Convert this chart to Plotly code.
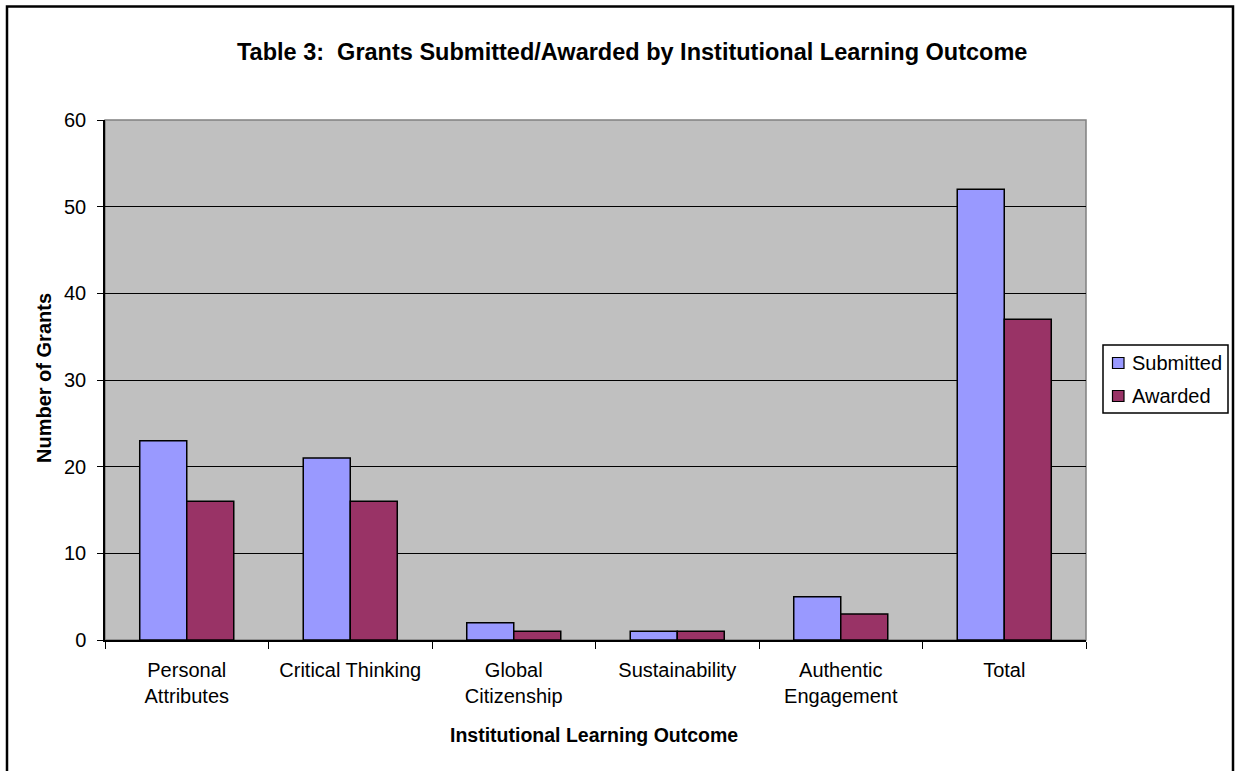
import plotly.graph_objects as go

outcomes = ["Personal<br>Attributes", "Critical Thinking", "Global<br>Citizenship",
            "Sustainability", "Authentic<br>Engagement", "Total"]
submitted = [23, 21, 2, 1, 5, 52]
awarded = [16, 16, 1, 1, 3, 37]

series = [("Submitted", submitted, "#9999FF"), ("Awarded", awarded, "#993366")]

W, H = 1235, 771
L, R, T, B = 105, 1086, 120, 640   # plot area in pixels
pw, ph = R - L, B - T

def px(x):
    return (x - L) / pw

def py(y):
    return (B - y) / ph

fig = go.Figure()
for name, vals, color in series:
    fig.add_trace(go.Bar(x=outcomes, y=vals, name=name, showlegend=False,
                         marker=dict(color=color, line=dict(color="black", width=1.5))))

fig.update_layout(
    width=W, height=H,
    paper_bgcolor="white",
    plot_bgcolor="#C0C0C0",
    font=dict(family="Arial, Liberation Sans, sans-serif", color="black", size=20),
    barmode="group",
    bargap=0.425,
    bargroupgap=0,
    margin=dict(l=L, r=W - R, t=T, b=H - B, autoexpand=False),
    xaxis=dict(
        showline=True, linecolor="black", linewidth=1.5,
        ticks="outside", tickson="boundaries", ticklen=7, tickcolor="black",
        tickfont=dict(size=20), ticklabelstandoff=11,
    ),
    yaxis=dict(
        range=[0, 60], dtick=10,
        showline=True, linecolor="black", linewidth=1.5,
        ticks="outside", ticklen=6, tickcolor="black",
        showgrid=True, gridcolor="black", gridwidth=1,
        zeroline=False,
        tickfont=dict(size=20), ticklabelstandoff=7,
    ),
)

fig.add_annotation(text="<b>Table 3:  Grants Submitted/Awarded by Institutional Learning Outcome</b>",
                   xref="paper", yref="paper", x=px(632), y=py(52),
                   xanchor="center", yanchor="middle", showarrow=False,
                   font=dict(size=23.5))
fig.add_annotation(text="<b>Institutional Learning Outcome</b>",
                   xref="paper", yref="paper", x=px(594), y=py(735),
                   xanchor="center", yanchor="middle", showarrow=False,
                   font=dict(size=19.5))
fig.add_annotation(text="<b>Number of Grants</b>", textangle=-90,
                   xref="paper", yref="paper", x=px(44), y=py(378),
                   xanchor="center", yanchor="middle", showarrow=False,
                   font=dict(size=20))

# legend box drawn by hand, Excel style
fig.add_shape(type="rect", xref="paper", yref="paper",
              x0=px(1103), x1=px(1228), y0=py(413), y1=py(345),
              line=dict(color="black", width=1.5), fillcolor="white")
for i, (name, vals, color) in enumerate(series):
    yc = 363 + 33 * i
    fig.add_shape(type="rect", xref="paper", yref="paper",
                  x0=px(1112.5), x1=px(1124), y0=py(yc + 5.5), y1=py(yc - 5.5),
                  line=dict(color="black", width=1.2), fillcolor=color)
    fig.add_annotation(text=name, xref="paper", yref="paper", x=px(1130), y=py(yc),
                       xanchor="left", yanchor="middle", showarrow=False,
                       font=dict(size=20))

# gray frame on the top/right of the plot area, and the outer chart border
fig.add_shape(type="rect", xref="paper", yref="paper", x0=0, y0=0, x1=1, y1=1,
              line=dict(color="#808080", width=1.5), layer="below")
fig.add_shape(type="rect", xref="paper", yref="paper",
              x0=px(7), x1=px(1233), y0=py(800), y1=py(6.5),
              line=dict(color="black", width=2.5))

# drop the browser's default 8px body margin so the figure sits at the corner
fig.write_html("out.html", config={"displayModeBar": False},
               post_script="document.body.style.margin='0';document.body.style.overflow='hidden';")
